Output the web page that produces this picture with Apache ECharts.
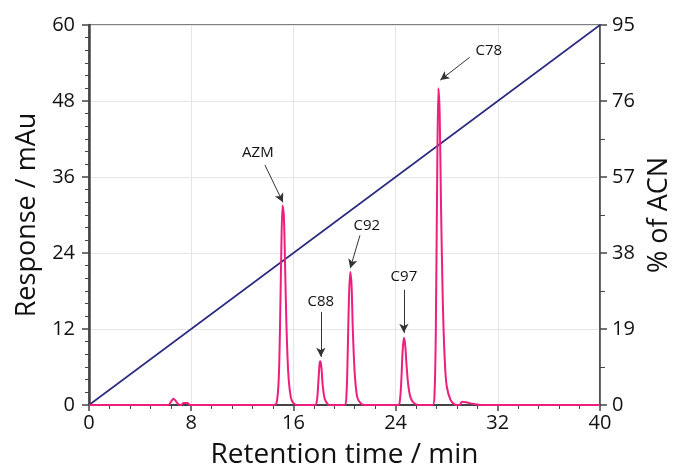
<!DOCTYPE html>
<html>
<head>
<meta charset="utf-8">
<script src="https://cdn.jsdelivr.net/npm/echarts@6/dist/echarts.min.js"></script>
</head>
<body style="margin:0">
<div id="main" style="width:678px;height:470px;"></div>
<script type="text/javascript">
// chromatogram trace [time min, response mAu]
var chromatogram = [
    [0, 0], [6.2, 0], [6.45, 0.6], [6.6, 1.0], [6.8, 0.6], [7.0, 0.1], [7.2, 0], [7.4, 0.3], [7.7, 0.3], [7.9, 0],
    [14.5, 0], [14.7, 0.5], [14.85, 4], [14.95, 12], [15.05, 24], [15.15, 31.5], [15.25, 30], [15.35, 22], [15.45, 13], [15.6, 5], [15.8, 1.2], [16.0, 0.3], [16.3, 0],
    [17.7, 0], [17.85, 0.8], [17.95, 3.5], [18.05, 6.5], [18.12, 6.9], [18.2, 5.8], [18.3, 3], [18.45, 1], [18.7, 0.1], [18.9, 0],
    [20.0, 0], [20.15, 1.5], [20.25, 8], [20.35, 17], [20.45, 21], [20.55, 19], [20.65, 12], [20.8, 5], [21.0, 1.2], [21.3, 0.2], [21.6, 0],
    [24.2, 0], [24.35, 1], [24.45, 4], [24.55, 8.5], [24.65, 10.6], [24.75, 9.5], [24.85, 6.5], [25.0, 3], [25.2, 1], [25.5, 0.2], [25.8, 0],
    [26.9, 0], [27.05, 2], [27.15, 12], [27.25, 35], [27.35, 50], [27.45, 46], [27.55, 32], [27.7, 16], [27.85, 7], [28.0, 3], [28.3, 0.8], [28.6, 0.1], [28.8, 0],
    [29.0, 0], [29.2, 0.5], [29.6, 0.4], [30.0, 0.2], [30.5, 0.05], [31, 0], [40, 0]
];
// gradient, % ACN
var gradient = [[0, 0], [40, 95]];

// peak labels [name, time, response] and arrows [from time, from resp, to time, to resp]
var peakLabels = [
    ['AZM', 13.22, 39.8],
    ['C88', 18.15, 16.3],
    ['C92', 21.75, 28.3],
    ['C97', 24.65, 20.2],
    ['C78', 31.3, 56.0]
];
var peakArrows = [
    [13.77, 37.9, 15.18, 32.0],
    [18.15, 14.7, 18.15, 7.6],
    [21.21, 26.8, 20.45, 21.6],
    [24.65, 18.2, 24.65, 11.4],
    [29.8, 54.9, 27.5, 51.3]
];

var xTicks = { min: 0, max: 40, interval: 8 };
var yLeftTicks = { min: 0, max: 60, interval: 12 };
var yRightTicks = { min: 0, max: 95, interval: 19 };

var chart = echarts.init(document.getElementById('main'));
var fontFam = '"Open Sans", sans-serif';
var axisCol = '#444';

var arrowData = peakArrows.map(function (a) {
    return [{ coord: [a[0], a[1]] }, { coord: [a[2], a[3]] }];
});
var labelData = peakLabels.map(function (p) {
    return { name: p[0], value: [p[1], p[2]] };
});

var option = {
    backgroundColor: '#fff',
    animation: false,
    grid: {
        left: 89, right: 78, top: 25, bottom: 65,
        outerBoundsMode: 'none',
        containLabel: false,
        show: true, borderColor: '#555', borderWidth: 1.5
    },
    xAxis: {
        type: 'value',
        min: xTicks.min, max: xTicks.max, interval: xTicks.interval,
        name: 'Retention time / min',
        nameLocation: 'middle', nameGap: 36,
        nameTextStyle: { fontFamily: fontFam, fontSize: 28, color: '#111' },
        axisLine: { show: true, onZero: false, lineStyle: { color: axisCol, width: 2 } },
        axisTick: { show: true, length: 6, lineStyle: { color: axisCol, width: 1.5 } },
        minorTick: { show: true, splitNumber: 5, length: 4, lineStyle: { color: axisCol } },
        axisLabel: { fontFamily: fontFam, fontSize: 20, color: '#111', margin: 8 },
        splitLine: { show: true, lineStyle: { color: '#e6e6e6', width: 1 } }
    },
    yAxis: [{
        type: 'value',
        min: yLeftTicks.min, max: yLeftTicks.max, interval: yLeftTicks.interval,
        name: 'Response / mAu',
        nameLocation: 'middle', nameGap: 46,
        nameTextStyle: { fontFamily: fontFam, fontSize: 27, color: '#111' },
        axisLine: { show: true, onZero: false, lineStyle: { color: axisCol, width: 2.5 } },
        axisTick: { show: true, length: 7, lineStyle: { color: axisCol, width: 1.5 } },
        minorTick: { show: true, splitNumber: 6, length: 4, lineStyle: { color: axisCol } },
        axisLabel: { fontFamily: fontFam, fontSize: 20, color: '#111', margin: 14 },
        splitLine: { show: true, lineStyle: { color: '#e6e6e6', width: 1 } }
    }, {
        type: 'value',
        position: 'right',
        min: yRightTicks.min, max: yRightTicks.max, interval: yRightTicks.interval,
        name: '% of ACN',
        nameLocation: 'middle', nameGap: 46,
        nameRotate: 90,
        nameTextStyle: { fontFamily: fontFam, fontSize: 27, color: '#111' },
        axisLine: { show: true, onZero: false, lineStyle: { color: axisCol, width: 1.5 } },
        axisTick: { show: true, length: 7, lineStyle: { color: axisCol, width: 1.5 } },
        minorTick: { show: true, splitNumber: 2, length: 5, lineStyle: { color: axisCol } },
        axisLabel: { fontFamily: fontFam, fontSize: 20, color: '#111', margin: 12 },
        splitLine: { show: false }
    }],
    series: [{
        name: 'gradient',
        type: 'line',
        yAxisIndex: 1,
        data: gradient,
        showSymbol: false,
        lineStyle: { color: '#2b2a80', width: 1.6 },
        z: 3
    }, {
        name: 'response',
        type: 'line',
        yAxisIndex: 0,
        data: chromatogram,
        showSymbol: false,
        smooth: 0.3,
        lineStyle: { color: '#ee1e7d', width: 2 },
        z: 4,
        markLine: {
            silent: true,
            symbol: ['none', 'arrow'],
            symbolSize: [7, 9],
            label: { show: false },
            lineStyle: { color: '#333', width: 1, type: 'solid', opacity: 1 },
            data: arrowData
        }
    }, {
        name: 'labels',
        type: 'scatter',
        yAxisIndex: 0,
        data: labelData,
        symbolSize: 0,
        silent: true,
        itemStyle: { opacity: 1 },
        label: {
            show: true, position: 'inside',
            formatter: '{b}',
            fontFamily: fontFam, fontSize: 15, color: '#111'
        }
    }]
};
chart.setOption(option);
</script>
</body>
</html>
